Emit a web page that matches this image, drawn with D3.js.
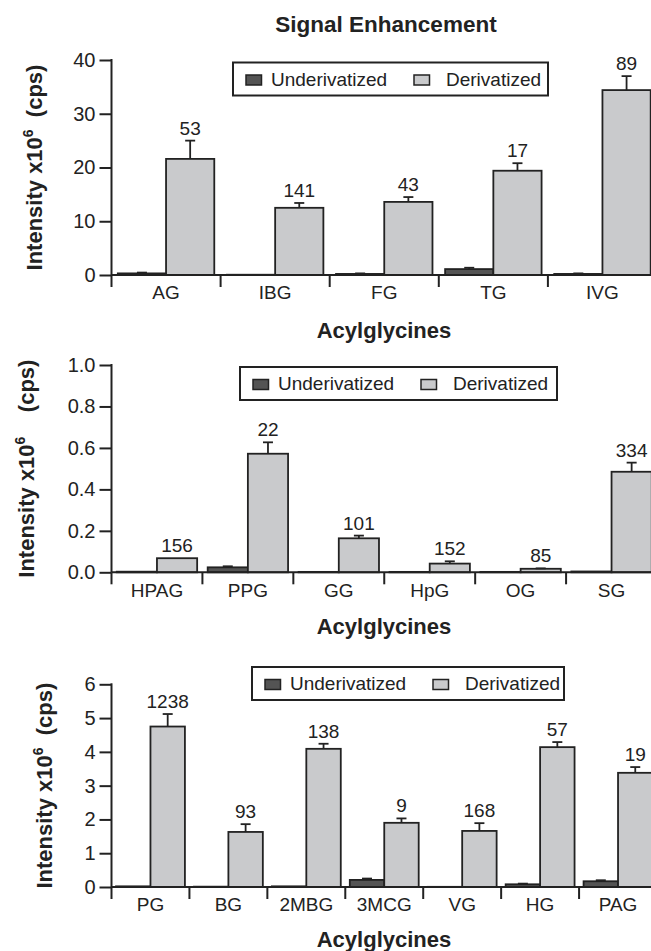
<!DOCTYPE html>
<html>
<head>
<meta charset="utf-8">
<script src="https://cdn.jsdelivr.net/npm/d3@7"></script>
<style>
body{margin:0;background:#fff;}
text{font-family:"Liberation Sans",Arial,Helvetica,sans-serif;fill:#222;}
</style>
</head>
<body>
<svg id="chart"></svg>
<script>
var w=651;
var h=951;

// data
var series=["Underivatized","Derivatized"];

var cats1=["AG","IBG","FG","TG","IVG"];
var under1=[0.3,0.05,0.2,1.1,0.2];
var underErr1=[0.15,0,0.1,0.25,0.1];
var deriv1=[21.6,12.5,13.6,19.4,34.4];
var derivErr1=[3.4,0.9,0.9,1.4,2.6];
var fold1=["53","141","43","17","89"];
var yTicks1=[0,10,20,30,40];

var cats2=["HPAG","PPG","GG","HpG","OG","SG"];
var under2=[0.003,0.024,0.002,0.002,0.002,0.004];
var underErr2=[0,0.005,0,0,0,0];
var deriv2=[0.068,0.572,0.164,0.042,0.017,0.485];
var derivErr2=[0,0.055,0.013,0.011,0.002,0.044];
var fold2=["156","22","101","152","85","334"];
var yTicks2=[0,0.2,0.4,0.6,0.8,1.0];

var cats3=["PG","BG","2MBG","3MCG","VG","HG","PAG"];
var under3=[0.02,0.01,0.02,0.21,0.005,0.08,0.17];
var underErr3=[0,0,0,0.04,0,0.02,0.03];
var deriv3=[4.75,1.63,4.09,1.90,1.66,4.14,3.38];
var derivErr3=[0.37,0.23,0.15,0.13,0.23,0.15,0.17];
var fold3=["1238","93","138","9","168","57","19"];
var yTicks3=[0,1,2,3,4,5,6];

var colors={"Underivatized":"#545454","Derivatized":"#c9cacc"};
var ink="#222";

var svg=d3.select("#chart")
          .attr("width",w)
          .attr("height",h);

svg.append("text")
   .attr("x",386)
   .attr("y",31.5)
   .attr("text-anchor","middle")
   .style("font-size","22.5px")
   .style("font-weight","bold")
   .text("Signal Enhancement");

function drawPanel(p){
  var xScale=d3.scaleBand()
               .domain(p.cats)
               .range([111.5,657]);
  var sub=d3.scaleBand()
            .domain(series)
            .range([0,xScale.bandwidth()])
            .paddingOuter(0.131);
  var yScale=d3.scaleLinear()
               .domain([0,p.ticks[p.ticks.length-1]])
               .range([p.y0,p.y1]);
  var rows=p.cats.map(function(c,i){
    return {cat:c,fold:p.fold[i],vals:[
      {s:series[0],v:p.under[i],e:p.underErr[i]},
      {s:series[1],v:p.deriv[i],e:p.derivErr[i]}]};
  });

  // y axis
  var yAxis=d3.axisLeft(yScale)
              .tickValues(p.ticks)
              .tickSize(12)
              .tickSizeOuter(0)
              .tickPadding(4)
              .tickFormat(p.fmt);
  var ya=svg.append("g")
     .attr("transform","translate(111.5,0)")
     .call(yAxis);
  ya.select(".domain").remove();
  ya.selectAll("line").attr("stroke",ink).attr("stroke-width",2);
  ya.selectAll("text").style("font-size","20px").style("fill",ink);
  svg.append("line")
     .attr("x1",111.5).attr("x2",111.5)
     .attr("y1",yScale.range()[1]-1).attr("y2",p.y0)
     .attr("stroke",ink).attr("stroke-width",2);

  // bars
  var g=svg.append("g")
           .selectAll("g")
           .data(rows)
           .enter()
           .append("g")
           .attr("transform",function(d){return "translate("+xScale(d.cat)+",0)";});
  g.selectAll("rect")
   .data(function(d){return d.vals;})
   .enter()
   .append("rect")
   .attr("x",function(d){return sub(d.s);})
   .attr("y",function(d){return yScale(d.v);})
   .attr("width",sub.bandwidth())
   .attr("height",function(d){return p.y0-yScale(d.v);})
   .attr("fill",function(d){return colors[d.s];})
   .attr("stroke",ink)
   .attr("stroke-width",1.8);
  var eb=g.selectAll("g.err")
          .data(function(d){return d.vals.filter(function(v){return v.e>0;});})
          .enter()
          .append("g")
          .classed("err",true);
  eb.append("line")
    .attr("x1",function(d){return sub(d.s)+sub.bandwidth()/2;})
    .attr("x2",function(d){return sub(d.s)+sub.bandwidth()/2;})
    .attr("y1",function(d){return yScale(d.v);})
    .attr("y2",function(d){return yScale(d.v+d.e);})
    .attr("stroke",ink).attr("stroke-width",1.8);
  eb.append("line")
    .attr("x1",function(d){return sub(d.s)+sub.bandwidth()/2-5;})
    .attr("x2",function(d){return sub(d.s)+sub.bandwidth()/2+5;})
    .attr("y1",function(d){return yScale(d.v+d.e);})
    .attr("y2",function(d){return yScale(d.v+d.e);})
    .attr("stroke",ink).attr("stroke-width",1.8);
  g.append("text")
   .attr("x",sub(series[1])+sub.bandwidth()/2)
   .attr("y",function(d){return yScale(d.vals[1].v+d.vals[1].e)-6;})
   .attr("text-anchor","middle")
   .style("font-size","19px")
   .text(function(d){return d.fold;});

  // x axis: line, group boundary ticks, names
  svg.append("line")
     .attr("x1",111.5).attr("x2",w)
     .attr("y1",p.y0).attr("y2",p.y0)
     .attr("stroke",ink).attr("stroke-width",2);
  svg.append("g")
     .selectAll("line")
     .data(p.cats)
     .enter()
     .append("line")
     .attr("x1",function(d){return xScale(d);})
     .attr("x2",function(d){return xScale(d);})
     .attr("y1",p.y0)
     .attr("y2",p.y0+12)
     .attr("stroke",ink).attr("stroke-width",2);
  var xAxis=d3.axisBottom(xScale)
              .tickSize(0)
              .tickPadding(11);
  var xa=svg.append("g")
     .attr("transform","translate(0,"+p.y0+")")
     .call(xAxis);
  xa.select(".domain").remove();
  xa.selectAll("text").style("font-size","19px").style("fill",ink);

  svg.append("text")
     .attr("x",384)
     .attr("y",p.y0+p.xTitle)
     .attr("text-anchor","middle")
     .style("font-size","22px")
     .style("font-weight","bold")
     .text("Acylglycines");

  // y title
  var yt=svg.append("text")
     .attr("transform","translate("+p.yLabX+","+((p.y0+p.y1)/2)+") rotate(-90)")
     .attr("text-anchor","middle")
     .style("font-size","22px")
     .style("font-weight","bold")
     .style("white-space","pre");
  yt.append("tspan").text("Intensity x10");
  yt.append("tspan").attr("dy",-9).style("font-size","14px").text("6");
  yt.append("tspan").attr("dy",9).text(p.gap+"(cps)");

  // legend
  var lg=svg.append("g")
            .attr("transform","translate("+p.legX+","+p.legY+")");
  lg.append("rect")
    .attr("width",p.legW).attr("height",33)
    .attr("fill","#fff").attr("stroke",ink).attr("stroke-width",2);
  var item=lg.selectAll("g")
             .data(series)
             .enter()
             .append("g")
             .attr("transform",function(d,i){return "translate("+(i==0?13:181)+",0)";});
  item.append("rect")
      .attr("y",12.5).attr("width",15.5).attr("height",10)
      .attr("fill",function(d){return colors[d];})
      .attr("stroke",ink).attr("stroke-width",1.5);
  item.append("text")
      .attr("x",function(d,i){return i==0?25:32;})
      .attr("y",23)
      .style("font-size","19px")
      .text(function(d){return d;});
}

drawPanel({cats:cats1,under:under1,underErr:underErr1,deriv:deriv1,derivErr:derivErr1,fold:fold1,
  ticks:yTicks1,fmt:d3.format("d"),y0:275,y1:60,xTitle:63,yLabX:41.5,gap:"  ",
  legX:233,legY:62.5,legW:315});
/////////////////////////////////////////////
drawPanel({cats:cats2,under:under2,underErr:underErr2,deriv:deriv2,derivErr:derivErr2,fold:fold2,
  ticks:yTicks2,fmt:d3.format(".1f"),y0:572.3,y1:365,xTitle:62,yLabX:33.5,gap:"    ",
  legX:240,legY:367,legW:317});
/////////////////////////////////////////////
drawPanel({cats:cats3,under:under3,underErr:underErr3,deriv:deriv3,derivErr:derivErr3,fold:fold3,
  ticks:yTicks3,fmt:d3.format("d"),y0:887,y1:684.3,xTitle:60,yLabX:52,gap:"  ",
  legX:252,legY:667,legW:312});
</script>
</body>
</html>
